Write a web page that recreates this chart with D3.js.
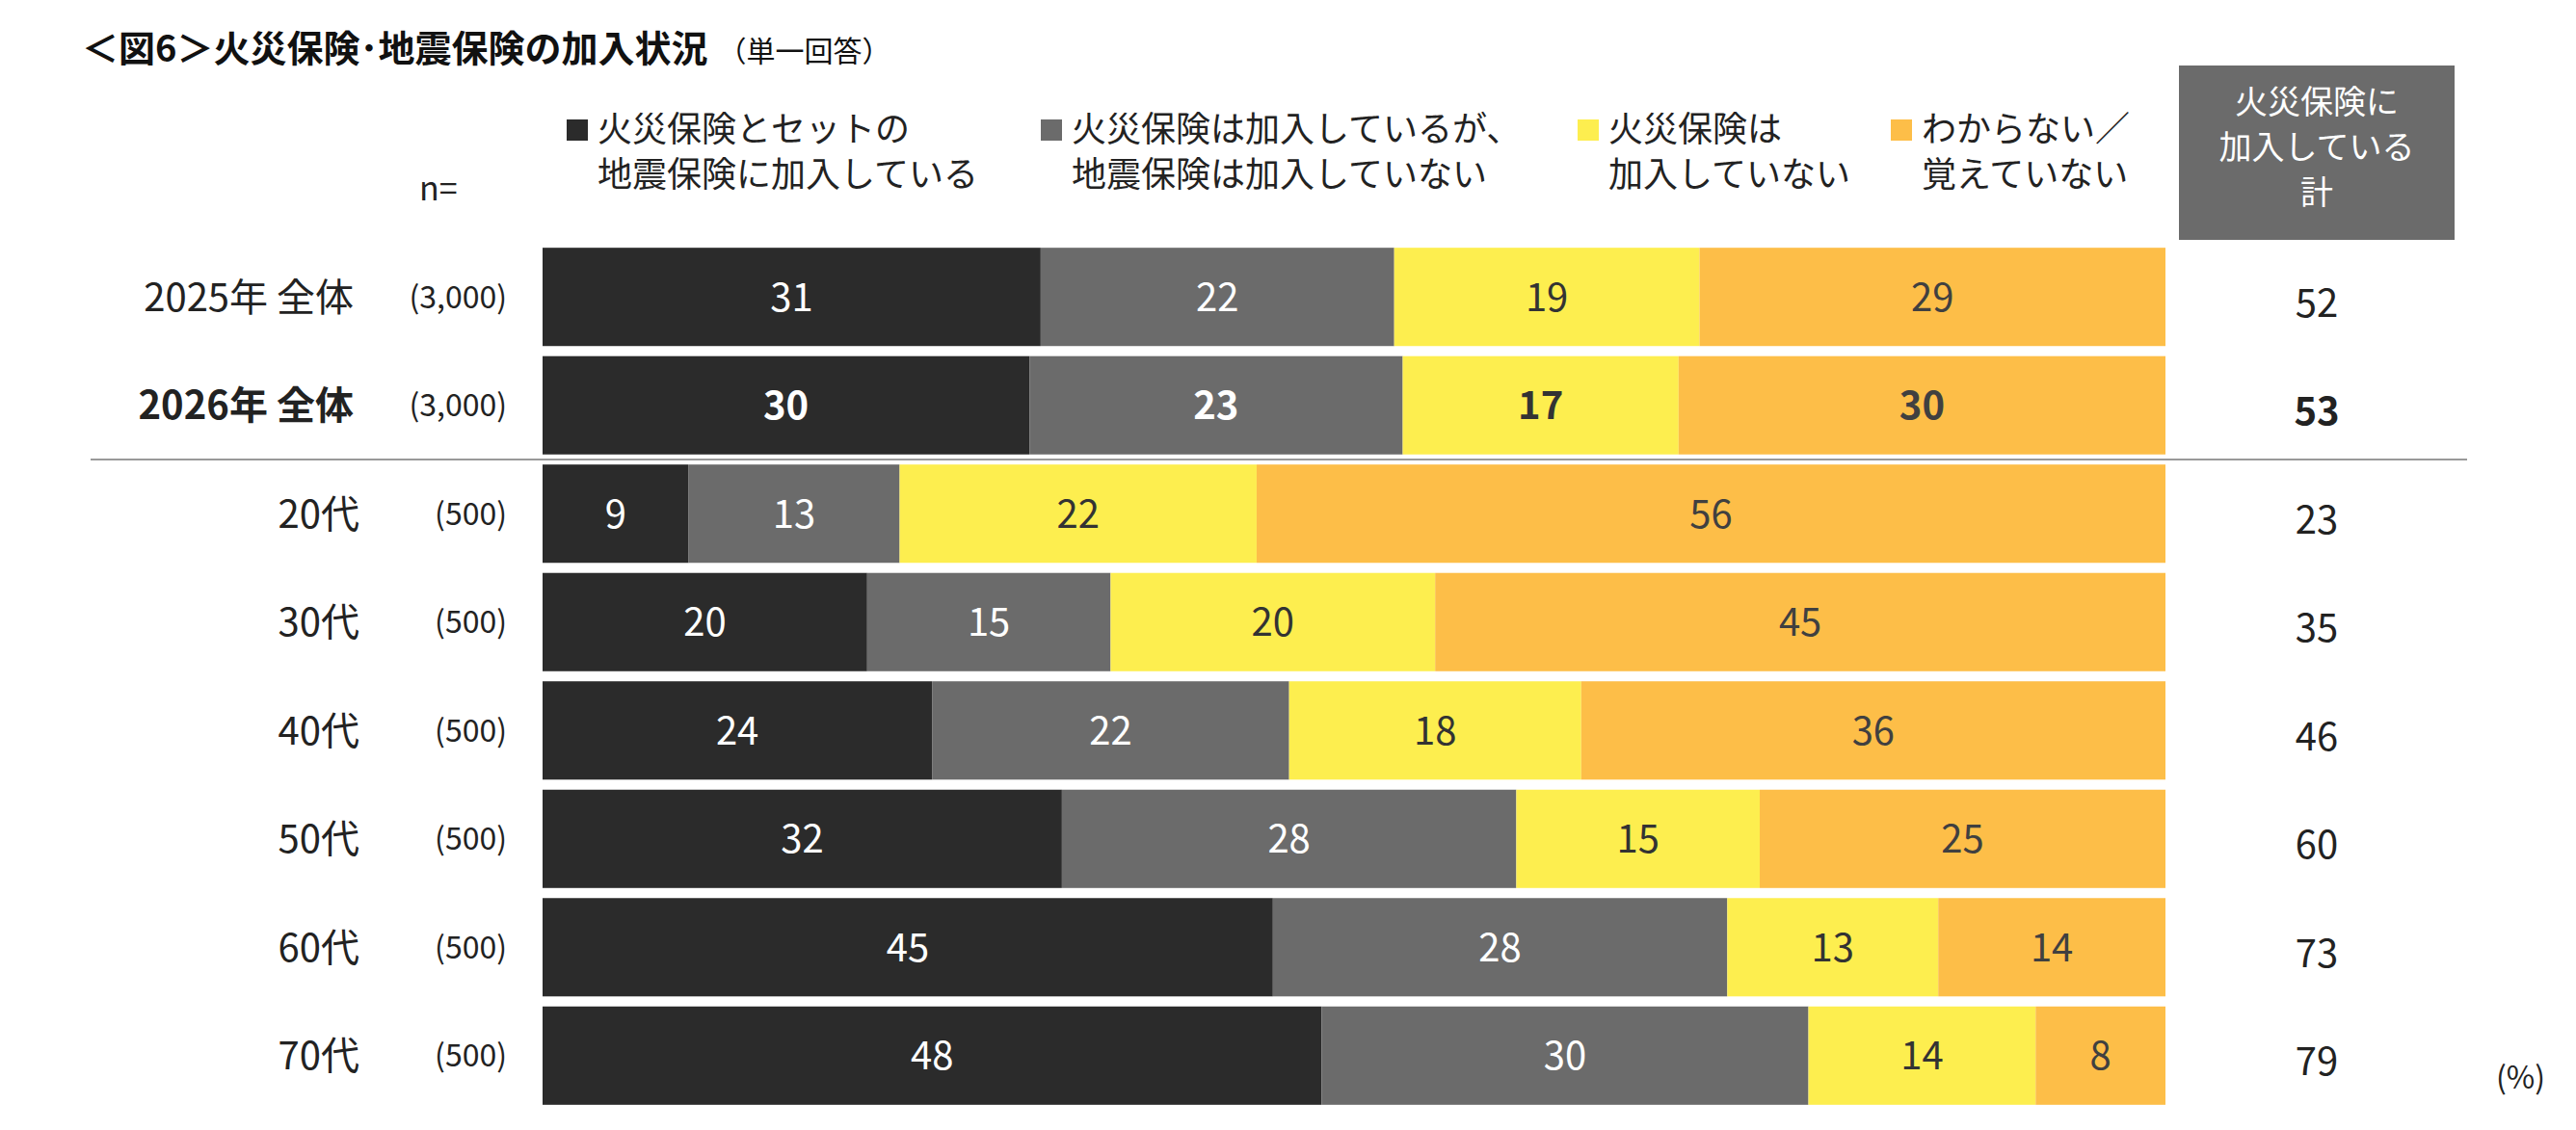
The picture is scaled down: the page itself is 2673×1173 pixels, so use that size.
<!DOCTYPE html>
<html>
<head>
<meta charset="utf-8">
<script src="https://cdn.jsdelivr.net/npm/d3@7"></script>
<style>
  body { margin: 0; background: #fff; }
  text { font-family: "Noto Sans CJK JP", "Noto Sans", sans-serif; }
</style>
</head>
<body>
<svg id="chart" width="2673" height="1173"></svg>
<script>
const categories = ["2025年 全体", "2026年 全体", "20代", "30代", "40代", "50代", "60代", "70代"];
const nLabels = ["(3,000)", "(3,000)", "(500)", "(500)", "(500)", "(500)", "(500)", "(500)"];
const seriesNames = ["火災保険とセットの\n地震保険に加入している", "火災保険は加入しているが、\n地震保険は加入していない", "火災保険は\n加入していない", "わからない／\n覚えていない"];
const withQuake = [31, 30, 9, 20, 24, 32, 45, 48];
const withoutQuake = [22, 23, 13, 15, 22, 28, 28, 30];
const noFire = [19, 17, 22, 20, 18, 15, 13, 14];
const unknown = [29, 30, 56, 45, 36, 25, 14, 8];
const totals = [52, 53, 23, 35, 46, 60, 73, 79];
const colors = ["#2b2b2b", "#6b6b6b", "#fdee4f", "#fdbe48"];
const textColors = ["#fff", "#fff", "#333", "#404040"];
const boldRow = 1;

const svg = d3.select("#chart");
const series = [withQuake, withoutQuake, noFire, unknown];

const y = d3.scaleBand().domain(d3.range(categories.length)).range([252, 252 + 112.5 * 8]).paddingInner(0.093).paddingOuter(0.046);

// title
const title = svg.append("text").attr("x", 85).attr("y", 64).attr("font-size", 38).attr("font-weight", "bold").attr("fill", "#111");
title.append("tspan").text("＜図6＞火災保険･地震保険の加入状況");
title.append("tspan").attr("font-size", 30).attr("font-weight", "normal").attr("dx", 10).text("（単一回答）");

// legend
const legX = [588, 1080, 1637, 1962];
seriesNames.forEach((name, i) => {
  const g = svg.append("g");
  g.append("rect").attr("x", legX[i]).attr("y", 124).attr("width", 22).attr("height", 22).attr("fill", colors[i]);
  name.split("\n").forEach((line, j) => {
    g.append("text").attr("x", j === 0 ? legX[i] + 32 : legX[i] + 36 - 4).attr("y", 147 + j * 47)
      .attr("font-size", 36).attr("fill", "#222").text(line);
  });
});
svg.append("text").attr("x", 435).attr("y", 208).attr("font-size", 34).attr("fill", "#222").text("n=");

// header box
svg.append("rect").attr("x", 2261).attr("y", 68).attr("width", 286).attr("height", 181).attr("fill", "#6b6b6b");
["火災保険に", "加入している", "計"].forEach((t, i) => {
  svg.append("text").attr("x", 2404).attr("y", 118 + i * 47).attr("text-anchor", "middle")
    .attr("font-size", 34).attr("fill", "#fff").text(t);
});

// rows
categories.forEach((cat, r) => {
  const vals = series.map(s => s[r]);
  const sum = d3.sum(vals);
  const x = d3.scaleLinear().domain([0, sum]).range([563, 2247]);
  let acc = 0;
  const yy = y(r), h = y.bandwidth();
  const bold = r === boldRow;
  vals.forEach((v, i) => {
    svg.append("rect").attr("x", x(acc)).attr("y", yy).attr("width", x(acc + v) - x(acc)).attr("height", h).attr("fill", colors[i]);
    svg.append("text").attr("x", (x(acc) + x(acc + v)) / 2).attr("y", yy + h / 2).attr("dy", "0.36em")
      .attr("text-anchor", "middle").attr("font-size", 40).attr("font-weight", bold ? "bold" : "normal")
      .attr("fill", textColors[i]).text(v);
    acc += v;
  });
  const isAge = r >= 2;
  svg.append("text").attr("x", isAge ? 373 : 367).attr("y", yy + h / 2).attr("dy", "0.36em").attr("text-anchor", "end")
    .attr("font-size", 40).attr("font-weight", bold ? "bold" : "normal").attr("fill", "#222").text(cat);
  svg.append("text").attr("x", 526).attr("y", yy + h / 2).attr("dy", "0.36em").attr("text-anchor", "end")
    .attr("font-size", 32).attr("fill", "#222").text(nLabels[r]);
  svg.append("text").attr("x", 2404).attr("y", yy + h / 2 + 6).attr("dy", "0.36em").attr("text-anchor", "middle")
    .attr("font-size", 40).attr("font-weight", bold ? "bold" : "normal").attr("fill", "#222").text(totals[r]);
});

// separator
const sepY = (y(1) + y.bandwidth() + y(2)) / 2;
svg.append("line").attr("x1", 94).attr("x2", 2560).attr("y1", sepY).attr("y2", sepY).attr("stroke", "#999").attr("stroke-width", 2);

svg.append("text").attr("x", 2590).attr("y", 1130).attr("font-size", 32).attr("fill", "#222").text("(%)");
</script>
</body>
</html>
